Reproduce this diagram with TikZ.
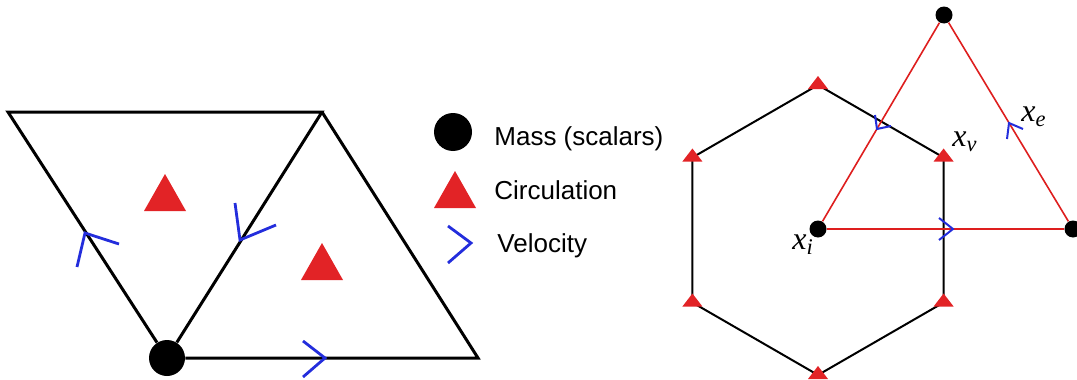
\documentclass[tikz,border=0pt]{standalone}
\usepackage{fontspec}
\setmainfont{Liberation Sans}
\newfontfamily\labfont{Liberation Serif}
\usepackage{tikz}
\usetikzlibrary{positioning}
\definecolor{circred}{RGB}{226,35,38}
\definecolor{edgered}{RGB}{222,30,30}
\definecolor{velblue}{RGB}{35,45,220}

\tikzset{
  circmark/.pic={\fill[circred] (0,-19) -- (21,18) -- (-21,18) -- cycle;},
  vertmark/.pic={\fill[circred] (0,-9) -- (10,4) -- (-10,4) -- cycle;},
  mass/.style={circle, fill=black, inner sep=0pt, minimum size=#1},
  legend/.style={anchor=base west, inner sep=0pt, font=\fontsize{13}{15}\selectfont},
  xlabel/.style={anchor=base west, inner sep=0pt, font=\fontsize{16}{18}\selectfont\labfont\itshape}
}

\begin{document}
\begin{tikzpicture}[x=0.5pt, y=-0.5pt,
    mesh/.style={line width=1.5pt, line join=miter},
    hexline/.style={line width=1pt, line join=miter},
    dualline/.style={edgered, line width=0.8pt},
    velo/.style={velblue, line width=1.4pt},
    smallvelo/.style={velblue, line width=1pt}]
  \useasboundingbox (0,0) rectangle (1077,380);

  % left: two triangles
  \coordinate (tl) at (8,112);
  \coordinate (tr) at (322,112);
  \coordinate (br) at (478,358);
  \node[mass=18pt] (m0) at (167,358) {};
  \draw[mesh] (m0) -- (tl) -- (tr) -- (m0) -- (br) -- (tr);
  \pic (c1) at (165,193) {circmark};
  \pic (c2) at (322,262) {circmark};
  \draw[velo] (77,267) -- (85,233) -- (119,244);
  \draw[velo] (235,203) -- (240,240) -- (276,225);
  \draw[velo] (303,341) -- (325,358) -- (303,377);

  % legend
  \node[mass=19pt] (lm) at (453,132) {};
  \pic (lc) at (455,190) {circmark};
  \draw[velo] (448,226) -- (471,243) -- (448,263);
  \node[legend] (lmass) at (494,145) {Mass (scalars)};
  \node[legend] (lcirc) at (494,199) {Circulation};
  \node[legend] (lvel) at (497,252) {Velocity};

  % right: hexagon cell
  \coordinate (h1) at (818,85);
  \coordinate (h2) at (943.6,157.5);
  \coordinate (h3) at (943.6,302.5);
  \coordinate (h4) at (818,375);
  \coordinate (h5) at (692.4,302.5);
  \coordinate (h6) at (692.4,157.5);
  \draw[hexline] (h1) -- (h2) -- (h3) -- (h4) -- (h5) -- (h6) -- cycle;
  \foreach \v in {1,...,6}
    \pic (v\v) at (h\v) {vertmark};

  % dual triangle
  \node[mass=8.5pt] (xi) at (818,229) {};
  \node[mass=8.5pt] (xt) at (944,15) {};
  \node[mass=8.5pt] (xr) at (1073,229) {};
  \draw[dualline] (xi) -- (xt) -- (xr) -- (xi);
  \draw[smallvelo] (875,115) -- (877,129) -- (891,126);
  \draw[smallvelo] (1007,139) -- (1009,123) -- (1023,129);
  \draw[smallvelo] (939,218) -- (953,229) -- (939,240);

  \node[xlabel] (lxv) at (952,146) {x\textsubscript{v}};
  \node[xlabel] (lxe) at (1021,121) {x\textsubscript{e}};
  \node[xlabel] (lxi) at (792,249) {x\textsubscript{i}};
\end{tikzpicture}
\end{document}
